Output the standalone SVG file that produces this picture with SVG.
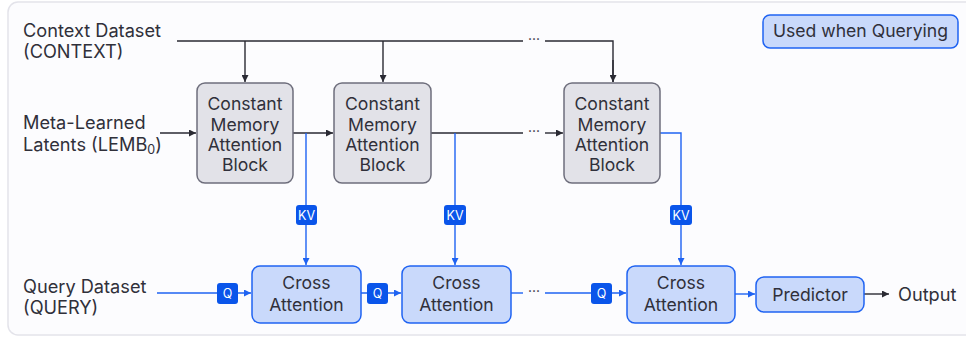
<svg xmlns="http://www.w3.org/2000/svg" width="966" height="338" viewBox="0 0 966 338">
<defs>
<style>
text{font-family:Inter,"Noto Sans","Liberation Sans",sans-serif;fill:#30303a;font-size:17.6px}
.side{font-size:18.2px}
.c{text-anchor:middle}
.cmab{fill:#e2e2e8;stroke:#6e6e7c;stroke-width:1.5}
.blue{fill:#c9d9fb;stroke:#1f63f2;stroke-width:1.5}
.badge{fill:#0a55ea}
.bt{fill:#ffffff;font-size:12.5px;text-anchor:middle}
.k{fill:none;stroke:#2a2a33;stroke-width:1.4}
.b{fill:none;stroke:#1f63f2;stroke-width:1.4}
.dots{font-size:14px;text-anchor:middle}
</style>
<marker id="ak" viewBox="0 0 10 10" refX="10" refY="5" markerWidth="7" markerHeight="7" markerUnits="userSpaceOnUse" orient="auto"><path d="M0,0L10,5L0,10z" fill="#2a2a33"/></marker>
<marker id="ab" viewBox="0 0 10 10" refX="10" refY="5" markerWidth="7" markerHeight="7" markerUnits="userSpaceOnUse" orient="auto"><path d="M0,0L10,5L0,10z" fill="#1f63f2"/></marker>
</defs>
<rect x="8" y="2" width="980" height="333" rx="10" fill="#fcfcfe" stroke="#e3e3ea" stroke-width="1.5"/>

<g id="labels">
<text x="23" y="37" class="side">Context Dataset</text>
<text x="23" y="58" class="side">(CONTEXT)</text>
<text x="23" y="129" class="side">Meta-Learned</text>
<text x="23" y="151" class="side">Latents (LEMB<tspan font-size="12.5" dy="3">0</tspan><tspan dy="-3">)</tspan></text>
<text x="23" y="293" class="side">Query Dataset</text>
<text x="23" y="314" class="side">(QUERY)</text>
<text x="898" y="301" class="side">Output</text>
</g>

<g id="legend">
<rect x="763" y="15" width="195" height="33" rx="7" class="blue"/>
<text x="860.5" y="37" class="c">Used when Querying</text>
</g>

<g id="connectors">
<path class="k" d="M177,41H523M545,41H613V82"/>
<path class="k" d="M245,41V82" marker-end="url(#ak)"/>
<path class="k" d="M383,41V82" marker-end="url(#ak)"/>
<path class="k" d="M613,60V82" marker-end="url(#ak)"/>
<text x="534" y="44" class="dots">···</text>
<path class="k" d="M160,133H196" marker-end="url(#ak)"/>
<path class="k" d="M293,133H333" marker-end="url(#ak)"/>
<path class="k" d="M431,133H523"/>
<path class="k" d="M545,133H563" marker-end="url(#ak)"/>
<text x="534" y="136" class="dots">···</text>
<path class="b" d="M306,133V265" marker-end="url(#ab)"/>
<path class="b" d="M455,133V265" marker-end="url(#ab)"/>
<path class="b" d="M660,133H681V265" marker-end="url(#ab)"/>
<path class="b" d="M157,293H251" marker-end="url(#ab)"/>
<path class="b" d="M361,293H401" marker-end="url(#ab)"/>
<path class="b" d="M511,293H523"/>
<text x="534" y="296" class="dots">···</text>
<path class="b" d="M545,293H626" marker-end="url(#ab)"/>
<path class="b" d="M735,294H755" marker-end="url(#ab)"/>
<path class="k" d="M864,294H889" marker-end="url(#ak)"/>
</g>

<g id="badges">
<rect x="296" y="205" width="21" height="20" rx="3" class="badge"/><text x="306.5" y="219.5" class="bt">KV</text>
<rect x="444" y="205" width="22" height="20" rx="3" class="badge"/><text x="455" y="219.5" class="bt">KV</text>
<rect x="670" y="205" width="22" height="20" rx="3" class="badge"/><text x="681" y="219.5" class="bt">KV</text>
<rect x="217" y="283" width="21" height="21" rx="3" class="badge"/><text x="227.5" y="298" class="bt">Q</text>
<rect x="367" y="283" width="21" height="21" rx="3" class="badge"/><text x="377.5" y="298" class="bt">Q</text>
<rect x="591" y="283" width="21" height="21" rx="3" class="badge"/><text x="601.5" y="298" class="bt">Q</text>
</g>

<g id="cmab1">
<rect x="197" y="83" width="96" height="100" rx="8" class="cmab"/>
<text x="245" y="110" class="c">Constant</text><text x="245" y="131" class="c">Memory</text><text x="245" y="151" class="c">Attention</text><text x="245" y="171" class="c">Block</text>
</g>
<g id="cmab2">
<rect x="334" y="83" width="97" height="100" rx="8" class="cmab"/>
<text x="382.5" y="110" class="c">Constant</text><text x="382.5" y="131" class="c">Memory</text><text x="382.5" y="151" class="c">Attention</text><text x="382.5" y="171" class="c">Block</text>
</g>
<g id="cmab3">
<rect x="564" y="83" width="96" height="100" rx="8" class="cmab"/>
<text x="612" y="110" class="c">Constant</text><text x="612" y="131" class="c">Memory</text><text x="612" y="151" class="c">Attention</text><text x="612" y="171" class="c">Block</text>
</g>

<g id="cross1">
<rect x="252" y="266" width="109" height="57" rx="8" class="blue"/>
<text x="306.5" y="289" class="c">Cross</text><text x="306.5" y="311" class="c">Attention</text>
</g>
<g id="cross2">
<rect x="402" y="266" width="109" height="57" rx="8" class="blue"/>
<text x="456.5" y="289" class="c">Cross</text><text x="456.5" y="311" class="c">Attention</text>
</g>
<g id="cross3">
<rect x="627" y="266" width="108" height="57" rx="8" class="blue"/>
<text x="681" y="289" class="c">Cross</text><text x="681" y="311" class="c">Attention</text>
</g>
<g id="predictor">
<rect x="756" y="277" width="108" height="35" rx="8" class="blue"/>
<text x="810" y="301" class="c">Predictor</text>
</g>
</svg>
